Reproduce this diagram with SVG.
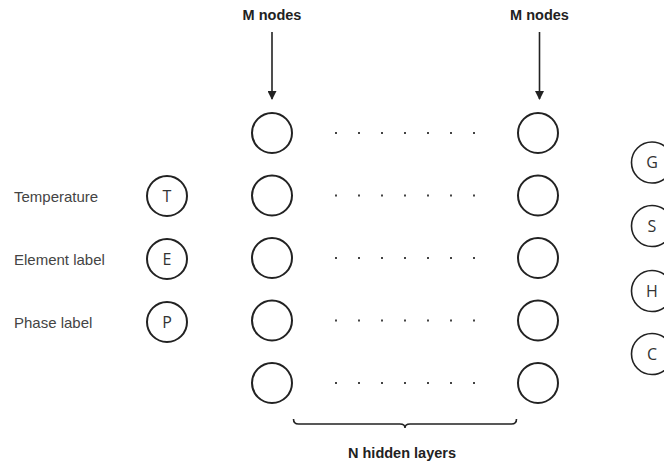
<svg xmlns="http://www.w3.org/2000/svg" width="664" height="464" viewBox="0 0 664 464">
  <style>
    .node { fill: none; stroke: #222; stroke-width: 2; }
    .out { fill: none; stroke: #222; stroke-width: 1.6; }
    .sym { font-family: "Open Sans", "Noto Sans", sans-serif; font-size: 16px; fill: #333; text-anchor: middle; }
    .lbl { font-family: "Liberation Sans", Arial, sans-serif; font-size: 15px; fill: #444; }
    .hdr { font-family: "Liberation Sans", Arial, sans-serif; font-size: 14.5px; font-weight: bold; fill: #222; text-anchor: middle; }
    .dot { fill: #444; }
    .edge { stroke: #222; stroke-width: 1.6; fill: none; }
  </style>
  <defs>
    <marker id="head" viewBox="0 0 10 10" refX="9" refY="5" markerWidth="10" markerHeight="9" markerUnits="userSpaceOnUse" orient="auto">
      <path d="M0,0 L10,5 L0,10 Z" fill="#222"/>
    </marker>
  </defs>

  <!-- column headers -->
  <text class="hdr" x="272" y="20">M nodes</text>
  <text class="hdr" x="539.5" y="20">M nodes</text>

  <!-- input features -->
  <g id="in-T">
    <text class="lbl" x="14" y="201.5">Temperature</text>
    <circle class="node" cx="167" cy="196" r="20"/>
    <text class="sym" x="167" y="201.5">T</text>
  </g>
  <g id="in-E">
    <text class="lbl" x="14" y="264.5">Element label</text>
    <circle class="node" cx="167" cy="259" r="20"/>
    <text class="sym" x="167" y="264.5">E</text>
  </g>
  <g id="in-P">
    <text class="lbl" x="14" y="327.5">Phase label</text>
    <circle class="node" cx="167" cy="322" r="20"/>
    <text class="sym" x="167" y="327.5">P</text>
  </g>

  <!-- first hidden layer -->
  <g id="h1-1"><circle class="node" cx="272" cy="133" r="20"/></g>
  <g id="h1-2"><circle class="node" cx="272" cy="195.5" r="20"/></g>
  <g id="h1-3"><circle class="node" cx="272" cy="258" r="20"/></g>
  <g id="h1-4"><circle class="node" cx="272" cy="320.5" r="20"/></g>
  <g id="h1-5"><circle class="node" cx="272" cy="383" r="20"/></g>

  <!-- last hidden layer -->
  <g id="hN-1"><circle class="node" cx="538" cy="133" r="20"/></g>
  <g id="hN-2"><circle class="node" cx="538" cy="195.5" r="20"/></g>
  <g id="hN-3"><circle class="node" cx="538" cy="258" r="20"/></g>
  <g id="hN-4"><circle class="node" cx="538" cy="320.5" r="20"/></g>
  <g id="hN-5"><circle class="node" cx="538" cy="383" r="20"/></g>

  <!-- ellipsis between layers -->
  <g id="ellipsis" class="dot">
    <g id="dots-row">
      <rect x="335" y="132" width="2" height="2"/>
      <rect x="358" y="132" width="2" height="2"/>
      <rect x="381" y="132" width="2" height="2"/>
      <rect x="404" y="132" width="2" height="2"/>
      <rect x="427" y="132" width="2" height="2"/>
      <rect x="450" y="132" width="2" height="2"/>
      <rect x="473" y="132" width="2" height="2"/>
    </g>
    <use href="#dots-row" y="62.5"/>
    <use href="#dots-row" y="125"/>
    <use href="#dots-row" y="187.5"/>
    <use href="#dots-row" y="250"/>
  </g>

  <!-- outputs -->
  <g id="out-G">
    <circle class="out" cx="652" cy="162.5" r="20.5"/>
    <text class="sym" x="652" y="168">G</text>
  </g>
  <g id="out-S">
    <circle class="out" cx="652" cy="226" r="20.5"/>
    <text class="sym" x="652" y="231.5">S</text>
  </g>
  <g id="out-H">
    <circle class="out" cx="652" cy="291" r="20.5"/>
    <text class="sym" x="652" y="296.5">H</text>
  </g>
  <g id="out-C">
    <circle class="out" cx="652" cy="354" r="20.5"/>
    <text class="sym" x="652" y="359.5">C</text>
  </g>

  <!-- connectors -->
  <g id="connectors">
    <line class="edge" x1="272" y1="32" x2="272" y2="99" marker-end="url(#head)"/>
    <line class="edge" x1="539.5" y1="32" x2="539.5" y2="99" marker-end="url(#head)"/>
  </g>

  <!-- layer brace -->
  <g id="brace">
    <path class="edge" d="M293.5,419 Q293.5,424 298.5,424 L400,424 Q405,424 405,428 Q405,424 410,424 L511.5,424 Q516.5,424 516.5,419"/>
    <text class="hdr" x="402" y="458">N hidden layers</text>
  </g>
</svg>
